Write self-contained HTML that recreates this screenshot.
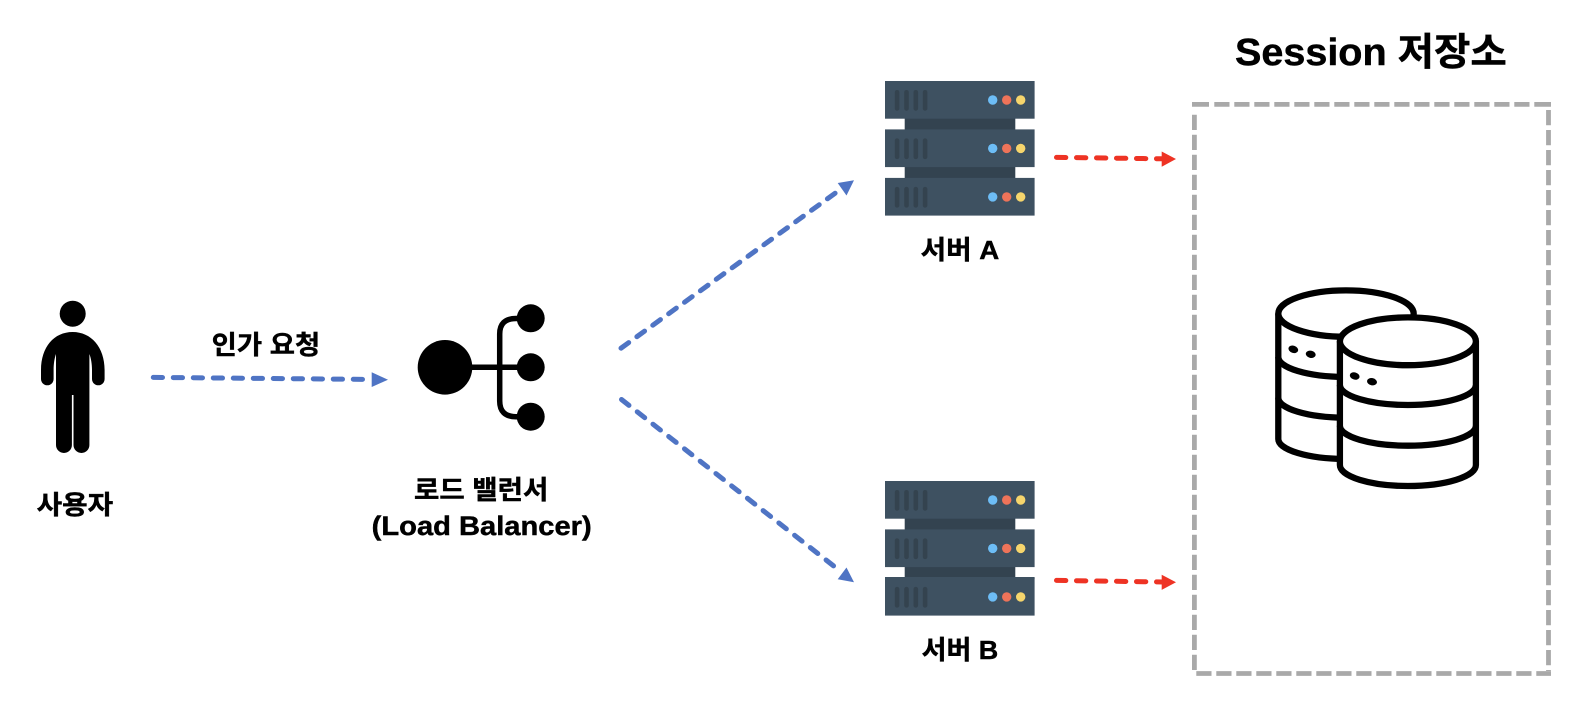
<!DOCTYPE html>
<html lang="ko">
<head>
<meta charset="utf-8">
<title>Session 저장소</title>
<style>
html,body{margin:0;padding:0;background:#fff}
svg{display:block}
text{font-family:"Liberation Sans","Noto Sans CJK KR",sans-serif;font-weight:700;fill:#000;stroke:#000;stroke-width:.45}
</style>
</head>
<body>
<svg width="1576" height="714" viewBox="0 0 1576 714" xmlns="http://www.w3.org/2000/svg">
<defs>
<g id="srv">
  <rect x="904.7" y="118" width="110.6" height="12" fill="#334350"/>
  <rect x="904.7" y="166.5" width="110.6" height="12" fill="#334350"/>
  <g id="unit">
    <rect x="885" y="81" width="149.6" height="37.7" fill="#3e5161"/>
    <g fill="#34434f">
      <rect x="894.8" y="90" width="4.6" height="20.7" rx="2.2"/>
      <rect x="904.2" y="90" width="4.6" height="20.7" rx="2.2"/>
      <rect x="913.5" y="90" width="4.6" height="20.7" rx="2.2"/>
      <rect x="922.8" y="90" width="4.6" height="20.7" rx="2.2"/>
    </g>
    <circle cx="992.7" cy="100" r="4.7" fill="#6dbdf6"/>
    <circle cx="1006.7" cy="100" r="4.7" fill="#ee7359"/>
    <circle cx="1020.7" cy="100" r="4.7" fill="#f6d56c"/>
  </g>
  <use href="#unit" transform="translate(0,48.4)"/>
  <use href="#unit" transform="translate(0,96.9)"/>
</g>
</defs>

<!-- user -->
<circle cx="72.7" cy="313.7" r="13" fill="#000"/>
<path fill="#000" d="M72.7,332 C54,332 41,347 41,370 V379 A6.3,6.3 0 0 0 53.6,379 V370 C53.6,364 54.5,358 56,354 V445 A7.85,7.85 0 0 0 71.9,445 V395 H73.5 V445 A7.85,7.85 0 0 0 89.4,445 V354 C91,358 92,364 92,370 V379 A6.3,6.3 0 0 0 104.6,379 V370 C104.6,347 91,332 72.7,332 Z"/>
<text x="36.7" y="514" font-size="26" textLength="76.5" lengthAdjust="spacingAndGlyphs">사용자</text>

<!-- request arrow -->
<text x="211.7" y="354" font-size="26" textLength="108.5" lengthAdjust="spacingAndGlyphs">인가 요청</text>
<line x1="153.3" y1="377.4" x2="366" y2="379.4" stroke="#4f74c4" stroke-width="5" stroke-linecap="round" stroke-dasharray="9.2 10.8"/>
<polygon points="388,379.7 371.7,372.3 371.7,387" fill="#4f74c4"/>

<!-- load balancer -->
<circle cx="445" cy="367.3" r="27.3" fill="#000"/>
<circle cx="530.7" cy="318.3" r="14" fill="#000"/>
<circle cx="530.7" cy="367.3" r="14" fill="#000"/>
<circle cx="530.7" cy="416.7" r="14" fill="#000"/>
<path d="M445,367.3 H530 M530,318.5 H516 Q499.7,318.5 499.7,334 V401 Q499.7,416.7 516,416.7 H530" fill="none" stroke="#000" stroke-width="5.5"/>
<text x="414" y="499" font-size="26" textLength="134.3" lengthAdjust="spacingAndGlyphs">로드 밸런서</text>
<text x="371.7" y="535" font-size="27" textLength="220" lengthAdjust="spacingAndGlyphs">(Load Balancer)</text>

<!-- diagonal arrows -->
<line x1="621" y1="348.2" x2="843" y2="187.5" stroke="#4f74c4" stroke-width="5" stroke-linecap="round" stroke-dasharray="9.5 10.1"/>
<polygon points="854,180.3 837.7,183 846.5,195.5" fill="#4f74c4"/>
<line x1="621.5" y1="399.5" x2="835" y2="567" stroke="#4f74c4" stroke-width="5" stroke-linecap="round" stroke-dasharray="9.5 10.5"/>
<polygon points="854,582.3 837.7,579.3 846.5,567.5" fill="#4f74c4"/>

<!-- servers -->
<use href="#srv"/>
<use href="#srv" transform="translate(0,400)"/>
<rect x="885" y="577" width="149.6" height="2" fill="#3e5161"/>
<text x="920.7" y="259" font-size="26" textLength="78.6" lengthAdjust="spacingAndGlyphs">서버 A</text>
<text x="921.7" y="659" font-size="26" textLength="76.6" lengthAdjust="spacingAndGlyphs">서버 B</text>

<!-- red arrows -->
<line x1="1056.5" y1="157.4" x2="1163" y2="158.8" stroke="#ee3324" stroke-width="5" stroke-linecap="round" stroke-dasharray="9.3 10.7"/>
<polygon points="1176,159 1161.7,151.5 1161.7,166.7" fill="#ee3324"/>
<line x1="1056.5" y1="580.4" x2="1163" y2="582" stroke="#ee3324" stroke-width="5" stroke-linecap="round" stroke-dasharray="9.3 10.7"/>
<polygon points="1176,582.3 1161.7,574.8 1161.7,589.9" fill="#ee3324"/>

<!-- session box -->
<text x="1235" y="65" font-size="38" textLength="271.7" lengthAdjust="spacingAndGlyphs">Session 저장소</text>
<g stroke="#a9a9a9" stroke-width="4.8" fill="none">
  <line x1="1192" y1="104.4" x2="1209" y2="104.4"/>
  <line x1="1214.3" y1="104.4" x2="1534" y2="104.4" stroke-dasharray="15.2 4.8"/>
  <line x1="1534.3" y1="104.4" x2="1551" y2="104.4"/>
  <line x1="1548.5" y1="110" x2="1548.5" y2="671" stroke-dasharray="15.3 4.7"/>
  <line x1="1196.3" y1="673.5" x2="1551" y2="673.5" stroke-dasharray="15.2 4.8"/>
  <line x1="1194.4" y1="114.7" x2="1194.4" y2="671" stroke-dasharray="15.3 4.7"/>
</g>

<!-- database -->
<g fill="none" stroke="#000" stroke-width="6.3">
  <ellipse cx="1346" cy="313.6" rx="67.7" ry="23.2" fill="#fff"/>
  <path d="M1278.3,313.6 V439 A67.7,20 0 0 0 1345,459"/>
  <path d="M1278.3,357 A67.7,20 0 0 0 1345,377"/>
  <path d="M1278.3,397.7 A67.7,20 0 0 0 1345,417.7"/>
  <path d="M1339.9,341.3 V465 A68,21 0 0 0 1475.9,465 V341.3" fill="#fff"/>
  <ellipse cx="1407.9" cy="341.3" rx="68" ry="23.9" fill="#fff"/>
  <path d="M1339.9,385 A68,20 0 0 0 1475.9,385"/>
  <path d="M1339.9,425.7 A68,20 0 0 0 1475.9,425.7"/>
</g>
<g fill="#000">
  <ellipse cx="1293.3" cy="349.3" rx="5" ry="3.6" transform="rotate(18 1293.3 349.3)"/>
  <ellipse cx="1310.7" cy="354.3" rx="5" ry="3.6" transform="rotate(12 1310.7 354.3)"/>
  <ellipse cx="1354.7" cy="376" rx="5" ry="3.6" transform="rotate(18 1354.7 376)"/>
  <ellipse cx="1372" cy="381.7" rx="5" ry="3.6" transform="rotate(12 1372 381.7)"/>
</g>
</svg>
</body>
</html>
